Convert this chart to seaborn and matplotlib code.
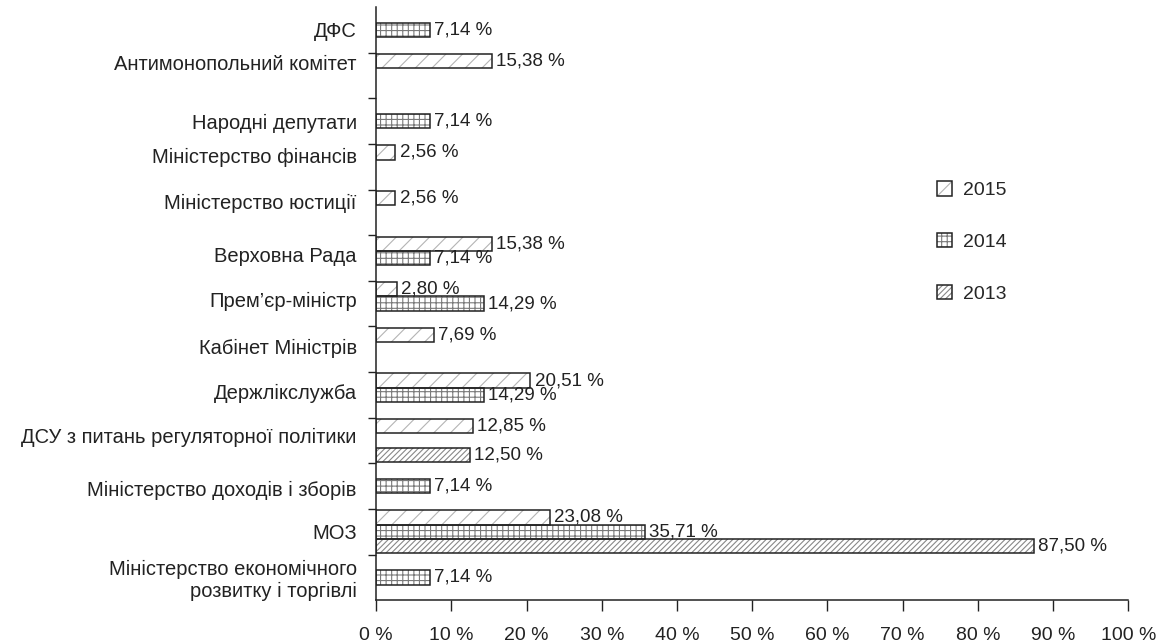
import numpy as np
import pandas as pd
import seaborn as sns
import matplotlib.pyplot as plt
from matplotlib.patches import Patch
from matplotlib.ticker import FixedLocator

nan = np.nan

# categories, top to bottom
categories = [
    "ДФС",
    "Антимонопольний комітет",
    "Народні депутати",
    "Міністерство фінансів",
    "Міністерство юстиції",
    "Верховна Рада",
    "Прем’єр-міністр",
    "Кабінет Міністрів",
    "Держлікслужба",
    "ДСУ з питань регуляторної політики",
    "Міністерство доходів і зборів",
    "МОЗ",
    "Міністерство економічного\nрозвитку і торгівлі",
]
years = ["2015", "2014", "2013"]
v2015 = [nan, 15.38, nan, 2.56, 2.56, 15.38, 2.80, 7.69, 20.51, 12.85, nan, 23.08, nan]
v2014 = [7.14, nan, 7.14, nan, nan, 7.14, 14.29, nan, 14.29, nan, 7.14, 35.71, 7.14]
v2013 = [nan, nan, nan, nan, nan, nan, nan, nan, nan, 12.50, nan, 87.50, nan]
xticks = list(range(0, 101, 10))

# small vertical nudges of the category labels (layout only)
label_shift = [0.0, -0.28, 0.0, -0.24, -0.23, -0.07, -0.1, -0.06, -0.08, -0.1, 0.06, 0.0, 0.0]

df = pd.DataFrame({"category": categories * 3,
                   "year": np.repeat(years, len(categories)),
                   "value": v2015 + v2014 + v2013})

# look of each series: hatch, hatch colour
styles = {
    "2015": ("//", "#b4b4b4"),
    "2014": ("+++", "#7a7a7a"),
    "2013": ("//////", "#888888"),
}
ink = "#222222"

sns.set_theme(style="ticks")
plt.rcParams["font.family"] = ["Liberation Sans", "DejaVu Sans"]
plt.rcParams["hatch.linewidth"] = 0.8

fig, ax = plt.subplots(figsize=(11.68, 6.44), dpi=100)
fig.subplots_adjust(left=0.322, right=0.966, bottom=0.068, top=0.989)

common = dict(data=df, y="category", x="value", hue="year", hue_order=years,
              order=categories, orient="h", width=0.94, errorbar=None,
              legend=False, ax=ax)

# layer 1: hatching
sns.barplot(palette=["white"] * 3, linewidth=0, **common)
for year, cont in zip(years, ax.containers):
    hatch, hcol = styles[year]
    for p in cont:
        p.set_facecolor("white")
        p.set_edgecolor(hcol)
        p.set_hatch(hatch)
        p.set_linewidth(0)

# layer 2: black outlines + value labels
sns.barplot(palette=["white"] * 3, linewidth=1.1, **common)
for cont in ax.containers[3:]:
    for p in cont:
        p.set_facecolor("none")
        p.set_edgecolor(ink)
    labels = [f"{v:.2f} %".replace(".", ",") for v in cont.datavalues]
    ax.bar_label(cont, labels=labels, padding=3, fontsize=13.5, color=ink)

ax.set_xlim(0, 100)
ax.set_ylim(len(categories) - 0.5, -0.5)
ax.set_xticks(xticks)
ax.set_xticklabels([f"{t} %" for t in xticks])
ax.set_yticks(np.arange(len(categories)) + np.array(label_shift), labels=categories)
ax.set_xlabel("")
ax.set_ylabel("")

ax.yaxis.set_minor_locator(FixedLocator(np.arange(0.5, len(categories) - 0.5, 1)))
ax.tick_params(axis="y", which="major", length=0, pad=14, labelsize=14.5, colors=ink)
ax.tick_params(axis="y", which="minor", left=True, length=6, width=1, color=ink)
ax.tick_params(axis="x", length=8, width=1, pad=11, labelsize=14, colors=ink)

sns.despine(ax=ax)
for s in ["left", "bottom"]:
    ax.spines[s].set_color(ink)
    ax.spines[s].set_linewidth(1.1)

handles = []
for year in years:
    hatch, hcol = styles[year]
    handles.append((Patch(facecolor="white", edgecolor=hcol, hatch=hatch, linewidth=0),
                    Patch(facecolor="none", edgecolor=ink, linewidth=1.1)))
fig.legend(handles, years, loc="center left", bbox_to_anchor=(0.794, 0.624),
           frameon=False, fontsize=14, handlelength=0.75, handleheight=0.75,
           handletextpad=0.6, labelspacing=1.75, borderpad=0)

fig.savefig("out.png", dpi=100)
